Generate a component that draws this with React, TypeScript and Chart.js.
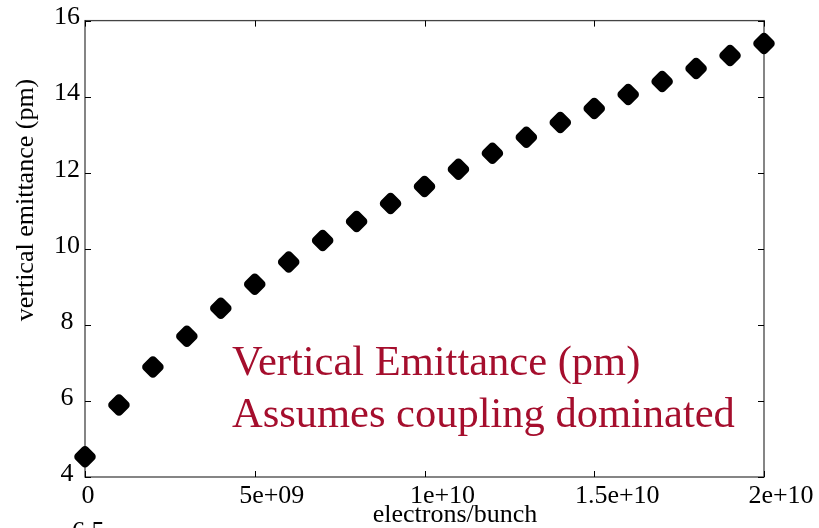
import React, { useEffect, useRef } from 'react';
import { Chart, registerables } from 'chart.js';

Chart.register(...registerables);

// ---- data ----
const electronsPerBunch = [
  0, 1e9, 2e9, 3e9, 4e9, 5e9, 6e9, 7e9, 8e9, 9e9, 1e10,
  1.1e10, 1.2e10, 1.3e10, 1.4e10, 1.5e10, 1.6e10, 1.7e10, 1.8e10, 1.9e10, 2e10,
];
const verticalEmittance = [
  4.53, 5.89, 6.89, 7.7, 8.44, 9.07, 9.65, 10.22, 10.72, 11.19, 11.64,
  12.09, 12.51, 12.93, 13.32, 13.69, 14.06, 14.4, 14.74, 15.08, 15.4,
];
const xTickLabels = ['0', '5e+09', '1e+10', '1.5e+10', '2e+10'];
const xTitle = 'electrons/bunch';
const yTitle = 'vertical emittance (pm)';
const noteLines = ['Vertical Emittance (pm)', 'Assumes coupling dominated'];
const clippedLabel = '6.5';

// ---- styles ----
const SERIF = '"Liberation Serif", "Times New Roman", serif';
const NOTE_COLOR = '#a50e2d';
const X_LABEL_NUDGE = [3, 17, 18, 23, 17];

const decorPlugin = {
  id: 'decor',
  beforeDatasetsDraw(chart: any) {
    const { ctx, chartArea: a, scales } = chart;
    const x = scales.x;
    const y = scales.y;
    ctx.save();
    ctx.strokeStyle = '#444';
    ctx.lineWidth = 1.3;
    ctx.strokeRect(a.left, a.top, a.right - a.left, a.bottom - a.top);
    ctx.strokeStyle = '#000';
    ctx.lineWidth = 1;
    ctx.beginPath();
    const TL = 6;
    x.ticks.forEach((t: any) => {
      const px = Math.round(x.getPixelForValue(t.value)) + 0.5;
      ctx.moveTo(px, a.bottom);
      ctx.lineTo(px, a.bottom - TL);
      ctx.moveTo(px, a.top);
      ctx.lineTo(px, a.top + TL);
    });
    y.ticks.forEach((t: any) => {
      const py = Math.round(y.getPixelForValue(t.value)) + 0.5;
      ctx.moveTo(a.left, py);
      ctx.lineTo(a.left + TL, py);
      ctx.moveTo(a.right, py);
      ctx.lineTo(a.right - TL, py);
    });
    ctx.stroke();
    ctx.restore();
  },
  beforeDatasetDraw(chart: any) {
    chart.ctx.save();
    chart.ctx.lineJoin = 'round';
  },
  afterDatasetDraw(chart: any) {
    chart.ctx.restore();
  },
  afterDraw(chart: any) {
    const { ctx, chartArea: a, scales } = chart;
    const x = scales.x;
    ctx.save();
    ctx.fillStyle = '#000';
    ctx.font = `26px ${SERIF}`;
    ctx.textBaseline = 'alphabetic';
    ctx.textAlign = 'center';
    x.ticks.forEach((t: any, i: number) => {
      const px = x.getPixelForValue(t.value) + (X_LABEL_NUDGE[i] || 0);
      ctx.fillText(xTickLabels[i] ?? String(t.value), px, a.bottom + 26);
    });
    ctx.fillText(xTitle, 455, 522);
    ctx.save();
    ctx.translate(33, 200);
    ctx.rotate(-Math.PI / 2);
    ctx.fillText(yTitle, 0, 0);
    ctx.restore();
    ctx.textAlign = 'left';
    ctx.fillText(clippedLabel, 72, 539);
    ctx.fillStyle = NOTE_COLOR;
    ctx.font = `42.5px ${SERIF}`;
    ctx.fillText(noteLines[0], 232, 375);
    ctx.fillText(noteLines[1], 232, 427);
    ctx.restore();
  },
};

export default function App() {
  const canvasRef = useRef<HTMLCanvasElement | null>(null);

  useEffect(() => {
    document.body.style.margin = '0';
    const canvas = canvasRef.current;
    if (!canvas) return;
    const points = electronsPerBunch.map((v, i) => ({ x: v, y: verticalEmittance[i] }));
    const chart = new Chart(canvas, {
      type: 'scatter',
      data: {
        datasets: [
          {
            data: points,
            pointStyle: 'rectRot',
            pointRadius: 6.5,
            pointBorderWidth: 8.5,
            backgroundColor: '#000',
            borderColor: '#000',
            showLine: false,
            clip: false as any,
          },
        ],
      },
      options: {
        animation: false,
        responsive: false,
        devicePixelRatio: 1,
        layout: { padding: { top: 20, right: 55, left: 0, bottom: 0 } },
        plugins: { legend: { display: false }, tooltip: { enabled: false } },
        scales: {
          x: {
            type: 'linear',
            min: 0,
            max: 2e10,
            grid: { display: false, drawTicks: false },
            border: { display: false },
            ticks: { display: false, stepSize: 5e9 },
            afterFit: (s: any) => {
              s.height = 51;
            },
          },
          y: {
            type: 'linear',
            min: 4,
            max: 16,
            grid: { display: false, drawTicks: false },
            border: { display: false },
            ticks: {
              stepSize: 2,
              color: '#000',
              padding: 5,
              crossAlign: 'center',
              labelOffset: -3,
              font: { family: SERIF, size: 26 },
              callback: (v: any) => String(v),
            },
            afterFit: (s: any) => {
              s.width = 85;
            },
          },
        },
      },
      plugins: [decorPlugin],
    } as any);
    return () => chart.destroy();
  }, []);

  return (
    <div style={{ position: 'absolute', left: 0, top: 0, width: 819, height: 528, background: '#fff' }}>
      <canvas ref={canvasRef} width={819} height={528} style={{ display: 'block' }} />
    </div>
  );
}
